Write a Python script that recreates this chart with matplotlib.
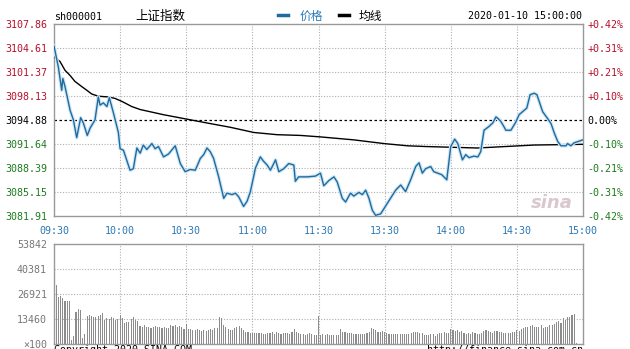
import matplotlib
matplotlib.use("Agg")
import matplotlib.pyplot as plt
import numpy as np

# price trace (minute since 09:30, index value)
price_min = [0, 2, 3.5, 4, 5, 7.3, 8.8, 10.3, 12.1, 13.3, 15.1, 16.4, 18.6, 20.1, 20.9,
             22.4, 24, 25.1, 27, 29.2, 30, 31.5, 34.5, 36, 37.6, 39.1, 40.5, 42.1, 44.4,
             45.9, 47.4, 49.7, 52, 55, 57.3, 59.5, 61.8, 64.1, 66.4, 67.9, 69.4, 70.9,
             72.4, 74.7, 77, 78.5, 80.8, 82.3, 83.8, 86, 87.6, 89.1, 91.4, 93.6, 95.1,
             96.7, 98.2, 100.5, 102, 104.2, 106.5, 108.8, 109.5, 111, 114.9, 118.6, 120.9,
             122.4, 124.7, 127, 128.5, 130.8, 132.3, 134.5, 136, 138.3, 139.9, 141.4,
             142.9, 144.4, 145.9, 148.2, 149.7, 151.2, 152.7, 155, 157.3, 159.5, 161.8,
             164.1, 165.6, 167.1, 168.6, 170.9, 172.3, 174.1, 175.9, 178.2, 180, 181.8,
             183.2, 185.3, 186.8, 188.3, 190.5, 192.3, 193.6, 195.1, 197.3, 199.1, 200.5,
             201.4, 202.7, 204.1, 205, 207.3, 209.5, 211, 213.3, 214.5, 216, 217.9, 219.1,
             220.1, 221.7, 223.9, 225.5, 227, 228.5, 230, 232.3, 233, 234.5, 236, 239, 240]
price_val = [3104.9, 3102.0, 3098.9, 3100.5, 3099.4, 3096.2, 3094.9, 3092.5, 3095.2,
             3094.5, 3092.8, 3093.8, 3094.9, 3098.0, 3096.9, 3097.2, 3096.7, 3097.9,
             3095.8, 3093.2, 3091.0, 3090.8, 3088.1, 3088.3, 3091.1, 3090.4, 3091.5,
             3090.9, 3091.7, 3091.0, 3091.3, 3089.9, 3090.3, 3091.4, 3089.0, 3087.9,
             3088.2, 3088.1, 3089.7, 3090.2, 3091.1, 3090.6, 3089.7, 3087.2, 3084.3,
             3085.0, 3084.8, 3085.0, 3084.5, 3083.2, 3083.9, 3085.2, 3088.4, 3089.9,
             3089.3, 3088.8, 3088.1, 3089.5, 3087.9, 3088.3, 3089.0, 3088.8, 3086.6,
             3087.2, 3087.2, 3087.3, 3087.7, 3086.0, 3086.7, 3087.2, 3086.5, 3084.3,
             3083.8, 3085.0, 3084.6, 3085.1, 3084.8, 3085.4, 3084.3, 3082.7, 3082.0,
             3082.2, 3082.9, 3083.6, 3084.3, 3085.4, 3086.1, 3085.2, 3086.8, 3088.6,
             3089.1, 3087.7, 3088.3, 3088.6, 3087.9, 3087.7, 3087.5, 3086.8, 3091.3,
             3092.3, 3091.7, 3089.5, 3090.2, 3089.8, 3090.0, 3089.9, 3090.6, 3093.5,
             3094.0, 3094.5, 3095.3, 3095.1, 3094.7, 3094.0, 3093.5, 3093.5, 3094.6,
             3095.6, 3096.2, 3096.5, 3098.3, 3098.5, 3098.3, 3097.4, 3096.0, 3095.1,
             3094.4, 3093.1, 3092.0, 3091.4, 3091.4, 3091.7, 3091.4, 3091.8, 3092.1,
             3092.2]

# average price line
avg_min = [0, 2.7, 5, 7.3, 9.5, 12.6, 14.9, 17.1, 20.1, 24.7, 27.7, 30.8, 35.3, 39.1,
           49.7, 60.3, 70.9, 80, 90.6, 101.2, 111.8, 120.9, 136, 149.7, 160.3, 168.6,
           192.1, 217.7, 240]
avg_val = [3103.4, 3102.8, 3101.6, 3100.9, 3100.1, 3099.4, 3098.9, 3098.4, 3098.1,
           3098.0, 3097.8, 3097.4, 3096.7, 3096.3, 3095.6, 3095.0, 3094.4, 3093.9,
           3093.2, 3092.9, 3092.8, 3092.6, 3092.2, 3091.7, 3091.4, 3091.3, 3091.1,
           3091.5, 3091.6]

# volume per minute (x100 shares), 241 values
volume = [53842, 31770, 25490, 25850, 24590, 23330, 23330, 23330, 2150, 4310,
          17410, 18670, 18310, 3050, 5390, 15080, 15620, 15080, 14360, 14360,
          15080, 15620, 16510, 12920, 13820, 13280, 14360, 13820, 12920, 13280,
          15620, 13820, 11490, 12030, 12030, 13280, 14720, 12920, 12570, 9690,
          8980, 10230, 9330, 9330, 8800, 9330, 9690, 8980, 9330, 8440,
          8980, 8440, 8440, 10230, 9690, 10230, 9330, 9690, 8980, 8080,
          10590, 7900, 7900, 7540, 7540, 7900, 7540, 7180, 7540, 7000,
          7540, 7900, 7540, 8440, 8800, 14720, 13820, 10230, 9330, 7900,
          7540, 7540, 8440, 8980, 9690, 8440, 7540, 6640, 6640, 6100,
          5740, 6100, 5740, 5740, 5740, 5390, 5390, 5740, 6100, 6640,
          5390, 6640, 5740, 5390, 6100, 5740, 5740, 5390, 6640, 7900,
          6640, 5740, 5390, 5390, 4850, 5390, 5740, 5200, 4850, 5000,
          15080, 4850, 5390, 4850, 5210, 4670, 4670, 5030, 4850, 4850,
          7900, 6640, 6640, 6100, 5740, 5740, 5210, 5390, 5390, 5390,
          5390, 5390, 5740, 6640, 8440, 7900, 7540, 6640, 6640, 7180,
          6640, 5740, 5390, 5390, 5390, 5210, 5390, 5210, 5390, 5210,
          5390, 5390, 6100, 6640, 6640, 6640, 6100, 5740, 4850, 4850,
          4850, 5210, 5210, 4310, 5390, 6100, 6100, 6640, 5740, 5740,
          7900, 7540, 7180, 7540, 6640, 7180, 6100, 5390, 5740, 5390,
          6640, 5740, 5390, 5390, 6100, 7180, 7540, 7000, 6640, 6100,
          7180, 7180, 6640, 6640, 6100, 6100, 5740, 6100, 6640, 6640,
          7540, 7180, 7900, 8440, 8980, 8980, 9690, 10230, 9330, 8980,
          9330, 10230, 8440, 9330, 9330, 10230, 10230, 10770, 12030, 12570,
          11490, 13820, 12920, 14360, 14360, 15620, 16160, 360, 0, 0, 0]

price_ticks = [3081.91, 3085.15, 3088.39, 3091.64, 3094.88, 3098.13, 3101.37, 3104.61, 3107.86]
pct_labels = ["-0.42%", "-0.31%", "-0.21%", "-0.10%", "0.00%", "+0.10%", "+0.21%", "+0.31%", "+0.42%"]
vol_ticks = [0, 13460, 26921, 40381, 53842]
vol_labels = ["×100", "13460", "26921", "40381", "53842"]
time_ticks = [0, 30, 60, 90, 120, 150, 180, 210, 240]
time_labels = ["09:30", "10:00", "10:30", "11:00", "11:30", "13:30", "14:00", "14:30", "15:00"]
prev_close = 3094.88

W, H = 630, 349
RED, GREEN, BLUE = "#b8102a", "#1d7a1d", "#2c78b4"
MONO = "DejaVu Sans Mono"
CJK = ["Noto Sans CJK SC", "DejaVu Sans"]


def px_rect(left, top, right, bottom):
    return [left / W, 1 - bottom / H, (right - left) / W, (bottom - top) / H]


fig = plt.figure(figsize=(W / 100, H / 100), dpi=100)
fig.patch.set_facecolor("white")

ax = fig.add_axes(px_rect(54, 24, 583, 216))
axv = fig.add_axes(px_rect(54, 244, 583, 344))

for a in (ax, axv):
    a.set_xlim(0, 240)
    for s in a.spines.values():
        s.set_color("#999999")
        s.set_linewidth(1)
    a.set_xticks(time_ticks)
    for t in time_ticks[1:-1]:
        a.axvline(t, color="#b0b0b0", lw=0.8, ls=(0, (1, 1.5)), zorder=1)
    a.tick_params(length=0)

# price panel
ax.set_ylim(price_ticks[0], price_ticks[-1])
for p in price_ticks[1:-1]:
    if p == prev_close:
        ax.axhline(p, color="black", lw=0.9, ls=(0, (2, 2)), zorder=2)
    else:
        ax.axhline(p, color="#b0b0b0", lw=0.8, ls=(0, (1, 1.5)), zorder=1)
ax.plot(avg_min, avg_val, color="black", lw=1.0, zorder=3)
ax.plot(price_min, price_val, color="#cfe6f5", lw=2.6, zorder=3, solid_joinstyle="round")
ax.plot(price_min, price_val, color="#1f6b9e", lw=1.0, zorder=4)

ax.set_yticks(price_ticks)
ax.set_yticklabels([f"{p:.2f}" for p in price_ticks], fontfamily=MONO, fontsize=7.2)
for lbl, p in zip(ax.get_yticklabels(), price_ticks):
    lbl.set_color(RED if p > prev_close + 0.01 else GREEN if p < prev_close - 0.01 else "black")
ax.tick_params(axis="y", pad=5)
ax.set_xticklabels(time_labels, fontfamily=MONO, fontsize=7.2, color=BLUE)
ax.tick_params(axis="x", pad=7)

axr = ax.twinx()
axr.set_ylim(ax.get_ylim())
axr.set_yticks(price_ticks)
axr.set_yticklabels(pct_labels, fontfamily=MONO, fontsize=7.2)
for lbl, p in zip(axr.get_yticklabels(), price_ticks):
    lbl.set_color(RED if p > prev_close + 0.01 else GREEN if p < prev_close - 0.01 else "black")
axr.tick_params(length=0, pad=3)
for s in axr.spines.values():
    s.set_visible(False)

ax.text(226 / 240 * 240, 3083.7, "sina", fontsize=13, fontweight="bold", style="italic",
        color="#d9c8cc", ha="center", va="center", zorder=0)

# volume panel
axv.set_ylim(0, vol_ticks[-1])
for v in vol_ticks[1:-1]:
    axv.axhline(v, color="#b0b0b0", lw=0.8, ls=(0, (1, 1.5)), zorder=1)
axv.bar(np.arange(len(volume)), volume, width=0.5, color="#8c8c8c", zorder=2)
axv.set_yticks(vol_ticks)
axv.set_yticklabels(vol_labels, fontfamily=MONO, fontsize=7.2, color="#777777")
axv.tick_params(axis="y", pad=5)
axv.set_xticklabels([])

# header
fig.text(54 / W, 1 - 17 / H, "sh000001", fontfamily=MONO, fontsize=7.2, va="center")
fig.text(160 / W, 1 - 16 / H, "上证指数", fontfamily=CJK, fontsize=9, ha="center", va="center")
fig.add_artist(plt.Line2D([278 / W, 288 / W], [1 - 15 / H] * 2, color="#1f6b9e", lw=2.5))
fig.text(300 / W, 1 - 16 / H, "价格", fontfamily=CJK, fontsize=8.5, color="#2c78b4", va="center")
fig.add_artist(plt.Line2D([339 / W, 349 / W], [1 - 15 / H] * 2, color="black", lw=2.5))
fig.text(359 / W, 1 - 16 / H, "均线", fontfamily=CJK, fontsize=8.5, va="center")
fig.text(582 / W, 1 - 16 / H, "2020-01-10 15:00:00", fontfamily=MONO, fontsize=7.2,
         ha="right", va="center")

# footer (cut off at the image edge like the original)
fig.text(54 / W, 1 - 345 / H, "Copyright 2020 SINA.COM", fontfamily=MONO, fontsize=7.2, va="top")
fig.text(583 / W, 1 - 345 / H, "http://finance.sina.com.cn", fontfamily=MONO, fontsize=7.2,
         ha="right", va="top")

fig.savefig("out.png", dpi=100)
